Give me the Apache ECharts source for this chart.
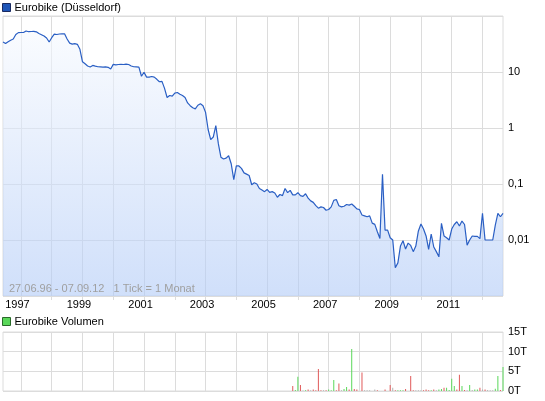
<!DOCTYPE html>
<html><head><meta charset="utf-8">
<script src="https://cdn.jsdelivr.net/npm/echarts@6/dist/echarts.min.js"></script>
<style>html,body{margin:0;padding:0;background:#fff}#c{width:545px;height:401px}</style>
</head><body><div id="c"></div>
<script>
// ---- data ----
const startMonth = [1996, 6];           // first monthly point (27.06.96)
const price = [
34.3, 32.3, 34.8, 37.0, 38.8, 46.7, 50.5, 50.7, 50.7, 54.0,
52.4, 52.9, 53.1, 52.2, 48.7, 46.4, 43.9, 40.5, 34.3, 41.0,
47.3, 46.7, 47.7, 47.9, 48.1, 38.8, 32.8, 31.5, 32.1, 31.2,
25.4, 15.2, 14.0, 12.8, 12.3, 13.1, 12.7, 12.4, 12.3, 12.2,
12.3, 12.1, 11.3, 13.7, 13.4, 13.6, 13.7, 13.6, 13.8, 13.6,
12.8, 12.4, 12.3, 12.2, 8.4, 9.9, 8.1, 8.1, 8.3, 8.1,
7.4, 6.7, 6.8, 5.1, 3.5, 3.8, 3.7, 4.2, 4.3, 4.0,
3.8, 3.5, 2.8, 2.5, 2.3, 2.2, 2.55, 2.7, 2.5, 1.9,
0.94, 0.62, 0.69, 1.1, 0.52, 0.30, 0.28, 0.29, 0.32, 0.23,
0.12, 0.21, 0.21, 0.19, 0.158, 0.15, 0.142, 0.097, 0.105, 0.1,
0.083, 0.078, 0.073, 0.080, 0.071, 0.073, 0.069, 0.058, 0.065, 0.062,
0.083, 0.070, 0.077, 0.064, 0.064, 0.070, 0.062, 0.060, 0.067, 0.056,
0.050, 0.047, 0.041, 0.037, 0.039, 0.038, 0.034, 0.035, 0.039, 0.051,
0.053, 0.041, 0.039, 0.040, 0.043, 0.042, 0.044, 0.040, 0.036, 0.035,
0.028, 0.027, 0.026, 0.027, 0.020, 0.019, 0.014, 0.0106, 0.149, 0.015,
0.015, 0.011, 0.01, 0.0032, 0.0039, 0.0078, 0.0097, 0.0069, 0.0088, 0.0080,
0.0062, 0.0078, 0.0145, 0.0193, 0.0157, 0.0118, 0.0068, 0.0128, 0.0075, 0.0062,
0.0050, 0.0199, 0.0118, 0.011, 0.01, 0.0157, 0.0189, 0.0212, 0.0178, 0.0218,
0.0189, 0.0081, 0.01, 0.0118, 0.0116, 0.0116, 0.0106, 0.030, 0.01, 0.01,
0.01, 0.01, 0.0185, 0.030, 0.026, 0.030
];
const volumeStart = [2005, 11];          // first month with volume
const volumeT = [
1.28, 0.26, 3.6, 1.5, 0.1, 0.2, 0.35, 0.2, 0.35, 0.2,
5.6, 0.2, 0.2, 0.2, 0.35, 0.2, 2.8, 0.2, 1.9, 0.2,
0.5, 1.0, 0.4, 10.7, 0.5, 0.35, 0, 4.7, 0.2, 0.2,
0.2, 0, 0.35, 0.2, 0, 0, 0.35, 0, 1.5, 0.8,
0.2, 0.2, 0.2, 0.2, 0.5, 0, 3.8, 0.2, 0.2, 0.2,
0.2, 0.2, 0.35, 0.2, 0.2, 0.35, 0.2, 0.35, 0.5, 0.8,
0.8, 0.25, 3.1, 1.3, 0.35, 4.1, 1.3, 0.25, 0.2, 1.5,
0.25, 0.35, 0.4, 0.8, 0.4, 0.35, 0.25, 0.2, 0.2, 0.6,
3.8, 0.25, 6.1
];
const volumeDir = [
'd','u','u','d','n','u','d','n','d','d',
'd','d','n','d','u','u','u','d','d','n',
'u','u','d','u','d','d','n','d','n','n',
'n','n','n','d','n','n','d','n','d','n',
'd','u','u','u','d','n','d','d','n','n',
'n','d','d','d','u','d','n','u','u','d',
'u','u','u','u','d','d','u','d','n','u',
'n','u','u','d','n','d','n','n','n','u',
'u','d','u'
];
const priceTickLabels = { '1': '10', '0': '1', '-1': '0,1', '-2': '0,01' };
const volumeTicks = [0, 5, 10, 15];
const legendPrice = 'Eurobike (Düsseldorf)';
const legendVolume = 'Eurobike Volumen';
const rangeText = '27.06.96 - 07.09.12   1 Tick = 1 Monat';

// ---- build ----
const months = [];
for (let i = 0; i < price.length; i++) {
  const m0 = startMonth[0] * 12 + (startMonth[1] - 1) + i;
  const y = Math.floor(m0 / 12), m = m0 % 12 + 1;
  months.push(y + '-' + (m < 10 ? '0' + m : m));
}
const volOffset = (volumeStart[0] * 12 + volumeStart[1]) - (startMonth[0] * 12 + startMonth[1]);
const dirColor = { u: '#5ad85a', d: '#e05a5a', n: '#b0b0b0' };
const volData = months.map((_, i) => {
  const k = i - volOffset;
  if (k < 0) return null;
  return { value: volumeT[k], itemStyle: { color: dirColor[volumeDir[k]] } };
});
const isJan = (idx, val) => String(val).slice(5) === '01';
const isOddJan = (idx, val) => isJan(idx, val) && (+String(val).slice(0, 4)) % 2 === 1;

const FONT = 'Liberation Sans, Arial, sans-serif';
const GRID_C = '#dcdcdc';
const chart = echarts.init(document.getElementById('c'), null, { renderer: 'canvas' });
chart.setOption({
  animation: false,
  textStyle: { fontFamily: FONT },
  legend: [
    { left: 2, top: 2, padding: 0, itemWidth: 8, itemHeight: 8, itemGap: 6, selectedMode: false,
      textStyle: { fontSize: 11, color: '#000', fontFamily: FONT, padding: [0, 0, 0, -1] },
      data: [{ name: legendPrice, icon: 'rect', itemStyle: { color: '#1f56b8', borderColor: '#1a2a60', borderWidth: 1 } }] },
    { left: 2, top: 316, padding: 0, itemWidth: 8, itemHeight: 8, itemGap: 6, selectedMode: false,
      textStyle: { fontSize: 11, color: '#000', fontFamily: FONT, padding: [0, 0, 0, -1] },
      data: [{ name: legendVolume, icon: 'rect', itemStyle: { color: '#5ad85a', borderColor: '#2a6a2a', borderWidth: 1 } }] }
  ],
  grid: [
    { left: 3, top: 16, right: 42, height: 280, show: true, borderColor: GRID_C, borderWidth: 1, backgroundColor: 'transparent' },
    { left: 3, top: 332, right: 42, height: 59, show: true, borderColor: GRID_C, borderWidth: 1, backgroundColor: 'transparent' }
  ],
  xAxis: [
    { type: 'category', gridIndex: 0, data: months, boundaryGap: false,
      axisLine: { show: false },
      axisTick: { show: true, interval: isJan, length: 4, lineStyle: { color: GRID_C } },
      splitLine: { show: true, interval: isJan, lineStyle: { color: GRID_C, width: 1 } },
      axisLabel: { interval: isOddJan, formatter: v => v.slice(0, 4), fontSize: 11, color: '#000',
                   fontFamily: FONT, margin: 3, padding: [0, 7, 0, 0] } },
    { type: 'category', gridIndex: 1, data: months, boundaryGap: false,
      axisLine: { show: false }, axisTick: { show: false }, axisLabel: { show: false },
      splitLine: { show: true, interval: isJan, lineStyle: { color: GRID_C, width: 1 } } }
  ],
  yAxis: [
    { type: 'log', logBase: 10, gridIndex: 0, position: 'right', min: 0.001, max: 100,
      axisLine: { show: false }, axisTick: { show: false },
      splitLine: { show: true, lineStyle: { color: GRID_C, width: 1 } },
      axisLabel: { fontSize: 11, color: '#000', fontFamily: FONT, margin: 5,
        formatter: v => priceTickLabels[String(Math.round(Math.log10(v)))] || '' } },
    { type: 'value', gridIndex: 1, position: 'right', min: volumeTicks[0], max: volumeTicks[volumeTicks.length - 1], interval: 5,
      axisLine: { show: false }, axisTick: { show: false },
      splitLine: { show: true, lineStyle: { color: GRID_C, width: 1 } },
      axisLabel: { fontSize: 11, color: '#000', fontFamily: FONT, margin: 5, formatter: v => v + 'T' } }
  ],
  series: [
    { name: legendPrice, type: 'line', xAxisIndex: 0, yAxisIndex: 0, data: price,
      symbol: 'none', smooth: false,
      lineStyle: { color: '#2a5fc4', width: 1.2 },
      itemStyle: { color: '#2a5fc4' },
      areaStyle: { color: { type: 'linear', x: 0, y: 16, x2: 0, y2: 296, global: true,
        colorStops: [{ offset: 0, color: 'rgba(250,252,255,0.85)' }, { offset: 1, color: 'rgba(176,202,247,0.85)' }] } } },
    { name: legendVolume, type: 'bar', xAxisIndex: 1, yAxisIndex: 1, data: volData, barWidth: 1, barGap: '-100%',
      itemStyle: { color: '#5ad85a' } }
  ],
  graphic: [
    { type: 'text', left: 9, top: 283, z: 100,
      style: { text: rangeText, fill: '#a0a0a0', font: '11px ' + FONT } }
  ]
});
</script></body></html>
